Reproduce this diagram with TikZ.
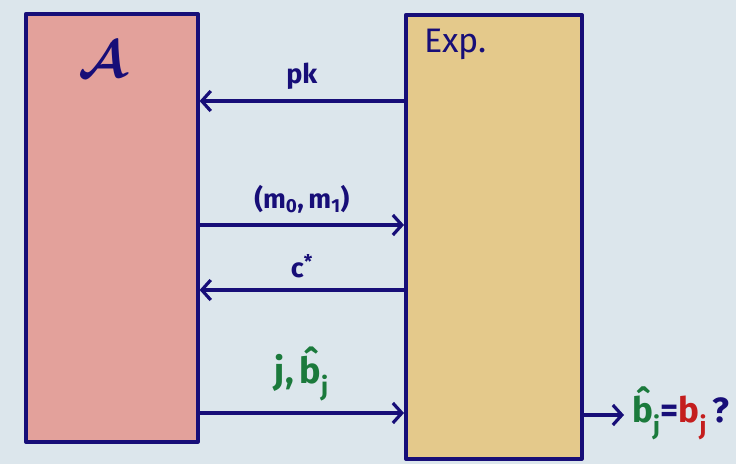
\documentclass[tikz,border=0pt]{standalone}
\usepackage{amsmath}
\usepackage{fontspec}
\setmainfont{Fira Sans}
\usetikzlibrary{arrows.meta}
\definecolor{bg}{HTML}{DCE6EC}
\definecolor{ink}{HTML}{170E78}
\definecolor{redfill}{HTML}{E3A19B}
\definecolor{yelfill}{HTML}{E4C98B}
\definecolor{grn}{HTML}{1B7A3C}
\definecolor{rd}{HTML}{C41E1E}
\newcommand{\bhat}{\^{b}}
\tikzset{
  party/.style={draw=ink, line width=3.6pt, line join=round},
  msg/.style={draw=ink, line width=3.6pt, line cap=round, -{Straight Barb[length=9pt,width=20pt,line width=3.2pt]}},
  lbl/.style={text=ink, font=\fontsize{27}{31}\selectfont\bfseries, inner sep=2pt},
}
\begin{document}
\begin{tikzpicture}[x=1pt,y=-1pt]
\fill[bg] (0,0) rectangle (736,464);
\useasboundingbox (0,0) rectangle (736,464);
% parties
\node[party, fill=redfill, minimum width=172pt, minimum height=428pt, anchor=north west, inner sep=0] (adv) at (24,12) {};
\node[party, fill=yelfill, minimum width=176pt, minimum height=444pt, anchor=north west, inner sep=0] (exp) at (404,13) {};
\node[text=ink, font=\Huge, scale=2.1, anchor=center] (advlbl) at (103,60) {$\boldsymbol{\mathcal{A}}$};
\node[lbl, font=\fontsize{34}{40}\selectfont, anchor=west] (explbl) at (422,44) {Exp.};
% messages
\coordinate (pkA) at (adv.east |- 0,101);
\coordinate (pkE) at (exp.west |- 0,101);
\draw[msg] (pkE) -- (pkA) node[midway, above=8pt, lbl] (pk) {pk};
\coordinate (mA) at (adv.east |- 0,225);
\coordinate (mE) at (exp.west |- 0,225);
\draw[msg] (mA) -- (mE) node[midway, above=8pt, lbl] (mm) {(m\textsubscript{0},\,m\textsubscript{1})};
\coordinate (cA) at (adv.east |- 0,290);
\coordinate (cE) at (exp.west |- 0,290);
\draw[msg] (cE) -- (cA) node[midway, above=8pt, lbl] (cs) {c\textsuperscript{*}};
\coordinate (jA) at (adv.east |- 0,413);
\coordinate (jE) at (exp.west |- 0,413);
\draw[msg] (jA) -- (jE) node[midway, above=8pt, lbl, text=grn, font=\fontsize{36}{40}\selectfont\bfseries] (jb) {j,\,\bhat\textsubscript{j}};
% output
\coordinate (oE) at (exp.east |- 0,415);
\node[lbl, font=\fontsize{35}{40}\selectfont\bfseries, anchor=west] (out) at (630,413) {\textcolor{grn}{\bhat\textsubscript{j}}=\textcolor{rd}{b\textsubscript{j}}\,?};
\draw[msg] (oE) -- ([xshift=-6pt]oE -| out.west);
\end{tikzpicture}
\end{document}
